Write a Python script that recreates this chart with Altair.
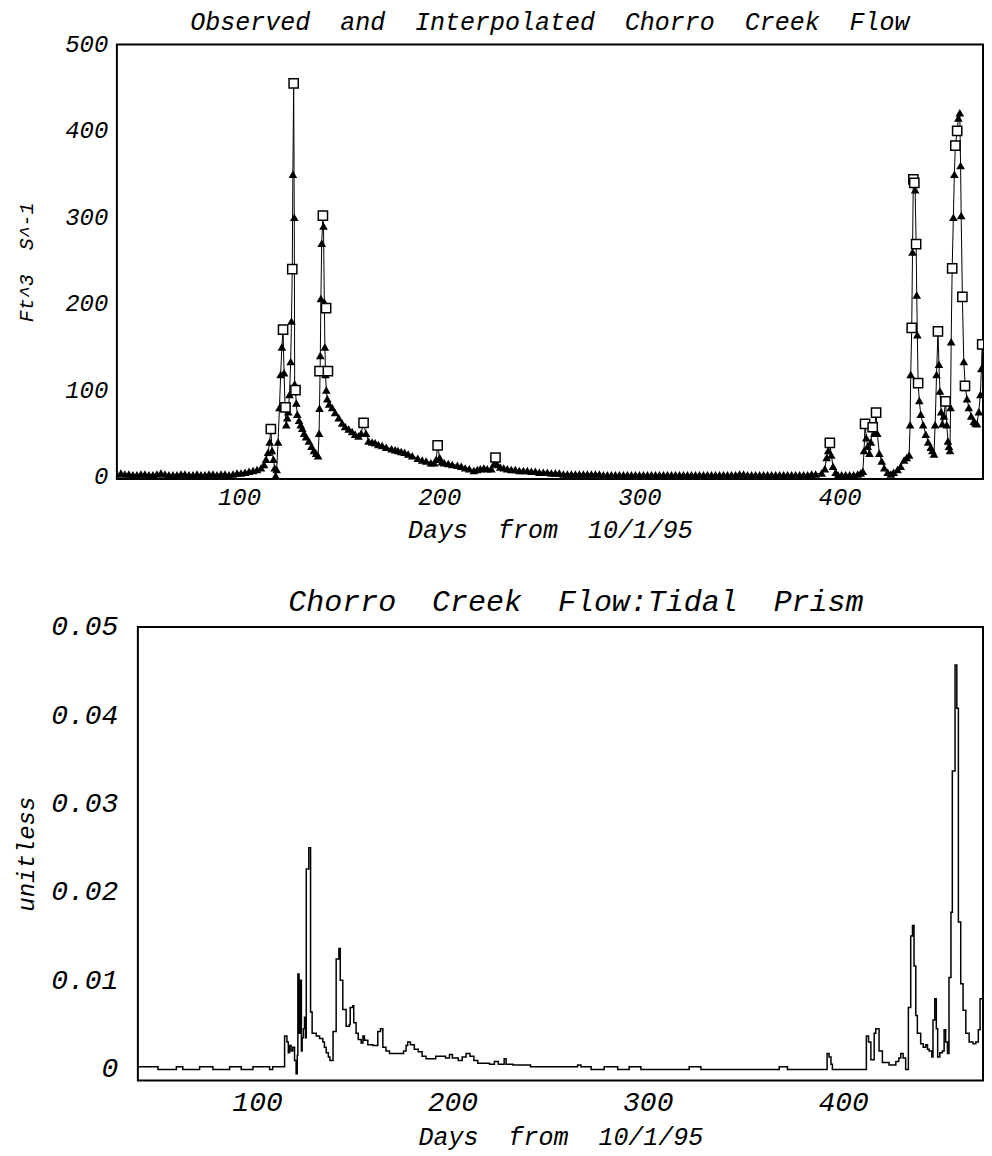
import altair as alt
import pandas as pd

FONT = "Liberation Mono"
SP = "\u00a0\u00a0"

# ---------------- top chart: flow (ft^3/s) ----------------
top_days = [39, 41, 43, 45, 47, 49, 51, 53, 55, 57, 59, 61, 63, 65, 67, 69, 71, 73, 75, 77,
            79, 81, 83, 85, 87, 89, 91, 93, 95, 97, 99, 101, 103, 105, 107, 109, 111,
            112.5, 113.5, 114.5, 115.3, 115.9, 116.5, 117.2, 117.8, 118.3, 118.8, 119.5, 120.2,
            120.8, 121.4, 122.0, 122.5, 123.0, 123.6, 124.1, 124.6, 125.2, 125.8, 126.2, 126.6,
            126.9, 127.3, 127.6, 127.8, 128.2, 128.6, 129.1, 130.0, 130.8, 131.6, 132.5, 133.5,
            134.9, 136.2, 137.4, 138.5, 139.5, 140.0, 140.2, 140.6, 140.9, 141.3, 141.9, 142.2,
            142.6, 142.9, 143.2, 143.6, 144.1, 145, 146.5, 148, 149.8, 151.5, 153, 154.8, 156.5,
            158, 159.7, 161, 162.2, 163.4, 164.7, 166.5, 168, 169.6, 171.5, 173.5, 176.2, 178,
            179.4, 181, 182.7, 184.5, 186.5, 189.3, 191.5, 193.5, 195.8, 197.5, 198.5, 199.2,
            200.2, 201.3, 202.5, 204.5, 206.5, 209.1, 211, 213, 215, 217.3, 219, 220.5, 222.3,
            224, 226, 227.4, 228.1, 229, 230.5, 232.2, 234, 236, 238, 240,
            242, 244, 246, 248, 250, 252, 254, 256, 258, 260, 262, 264, 266, 268, 270, 272, 274,
            276, 278, 280, 282, 284, 286, 288, 290, 292, 294, 296, 298, 300, 302, 304, 306, 308,
            310, 312, 314, 316, 318, 320, 322, 324, 326, 328, 330, 332, 334, 336, 338, 340, 342,
            344, 346, 348, 350, 352, 354, 356, 358, 360, 362, 364, 366, 368, 370, 372, 374, 376,
            378, 380, 382, 384, 386, 388,
            391, 392.6, 393.5, 394.3, 395.1, 395.8, 396.7, 398, 399.2, 401, 403, 405, 407, 409,
            410.5, 411.6, 412.2, 412.7, 413.3, 414.0, 414.9, 415.6, 416.5, 417.3, 418.2, 418.8,
            419.8, 421, 422.3, 424, 425.6, 427, 428.9, 430.5, 432.2, 433.5, 434.7, 435.2, 435.5,
            436.0, 436.4, 436.8, 437.2, 437.7, 438.2, 438.5, 438.8, 439.2, 439.8, 440.5, 441.7,
            443, 444.2, 445.5, 446.3, 447.1, 447.7, 448.4, 449.1, 449.6, 450.1, 450.7, 451.3,
            452.1, 452.9, 453.5, 454.1, 454.6, 455.1, 455.4, 455.7, 456.2, 456.8, 457.3, 457.8,
            458.7, 459.3, 460.0, 460.4, 460.7, 461.3, 462.0, 462.8, 463.6, 464.5, 465.7, 467,
            467.8, 468.6, 469.5, 470.3, 470.8, 471.2]
top_flow = [3, 4, 3, 3, 2, 2, 3, 3, 2, 2, 3, 4, 3, 2, 2, 2, 3, 3, 2, 2,
            3, 2, 2, 3, 3, 2, 3, 3, 2, 3, 4, 4, 5, 6, 7, 8, 10,
            14, 20, 28, 40, 55, 30, 20, 10, 1, 8, 40, 80,
            118, 150, 170, 120, 80, 60, 68, 75, 95, 133, 180, 240,
            350, 455, 300, 107, 100, 85, 72, 65, 60, 56, 50, 46,
            41, 35, 30, 27, 24, 50, 79, 140, 206, 270, 302, 290,
            202, 150, 118, 100, 90, 84, 80, 74, 68, 62, 58, 55, 52,
            49, 47, 50, 62, 50, 41, 40, 39, 37, 36, 34, 32, 31,
            30, 29, 28, 26, 24, 21, 19, 18, 16, 16, 20, 36,
            22, 17, 16, 15, 14, 13, 12, 10, 9, 7, 8, 9, 10,
            9, 9, 15, 22, 14, 11, 10, 9, 8, 8, 7,
            7, 7, 6, 6, 5, 5, 5, 4, 4, 4, 3, 3, 3, 3, 3, 3, 3,
            3, 3, 3, 2, 2, 2, 2, 2, 2, 2, 2, 2, 2, 2, 2, 2, 2,
            2, 2, 2, 2, 2, 2, 2, 2, 2, 2, 2, 2, 2, 2, 2, 2, 2,
            2, 2, 2, 3, 3, 2, 2, 2, 2, 2, 2, 2, 2, 2, 2, 2, 2,
            2, 2, 2, 2, 3, 3,
            4, 9, 22, 30, 39, 25, 12, 5, 2, 2, 2, 2, 2, 3,
            4, 6, 30, 61, 45, 35, 27, 40, 57, 50, 74, 50,
            27, 18, 10, 5, 3, 5, 8, 12, 19, 22, 25, 60, 118,
            172, 260, 344, 340, 332, 269, 210, 164, 108, 88, 72, 60,
            49, 40, 34, 30, 26, 60, 118, 168, 130, 99, 75, 61,
            70, 87, 60, 41, 35, 30, 80, 156, 241, 300, 350, 383,
            400, 415, 421, 360, 302, 208, 133, 103, 90, 80, 70, 64,
            62, 61, 75, 95, 125, 153]

obs_days = [115.9, 122.0, 123.2, 126.6, 127.3, 128.2, 140.2, 141.9, 143.5, 144.4, 162.2,
            199.2, 228.1, 395.1, 412.7, 416.5, 418.2, 436.0, 436.8, 437.3, 438.2, 439.2,
            449.1, 452.9, 456.2, 457.8, 458.7, 461.3, 462.6, 471.2]
obs_flow = [55, 170, 80, 240, 455, 100, 122, 302, 195, 122, 62,
            36, 22, 39, 61, 57, 74, 172, 344, 340, 269, 108,
            168, 87, 241, 383, 400, 208, 105, 153]

# ---------------- bottom chart: flow / tidal prism ----------------
ratio_days = [39.0, 49.3, 58.7, 62.0, 70.6, 77.4, 86.0, 91.9, 97.9, 106.4, 108.0,
              114.1, 115.3, 116.0, 116.6, 117.4, 118.3, 119.2, 120.0, 120.6, 120.9, 121.5,
              122.2, 122.7, 123.1, 123.7, 124.3, 124.8, 125.2, 126.5, 127.4, 128.2, 130.3,
              132.0, 133.7, 134.5, 135.4, 136.5, 137.3, 138.9, 140.5, 141.9, 142.6, 143.9,
              145.6, 147.2, 147.7, 149.0, 149.5, 150.7, 151.8, 153.3, 154.2, 155.0, 156.7,
              159.2, 161.8, 163.2, 164.4, 166.0, 167.8, 175.0, 176.3, 177.1, 178.5, 180.5,
              182.5, 184.5, 186.5, 190.0, 191.5, 195.0, 196.5, 198.5, 200.0, 203.0, 205.0,
              207.0, 209.0, 211.0, 213.0, 219.0, 221.5, 223.5, 226.5, 227.5, 231.0, 240.0,
              259.8, 264.1, 265.8, 271.0, 277.7, 284.6, 290.5, 296.5, 321.2, 327.2, 367.3,
              371.5, 391.8, 392.8, 393.8, 394.5, 411.9, 413.0, 414.2, 415.9, 416.7, 418.4,
              420.1, 423.5, 427.0, 428.5, 429.5, 430.7, 432.0, 433.4, 434.6, 435.5, 436.3,
              437.2, 438.0, 439.7, 441.0, 442.3, 443.2, 444.0, 445.4, 446.0, 446.9, 447.7,
              448.4, 449.5, 450.8, 451.7, 452.5, 453.4, 454.2, 455.2, 455.9, 457.3, 458.2,
              459.0, 460.2, 461.4, 462.8, 464.5, 466.5, 467.9, 469.2, 470.1, 471.6]
ratio_vals = [0.0002, -0.0001, 0.0002, -0.0001, 0.0002, -0.0001, 0.0002, -0.0001, 0.0002, -0.0001, 0.0002,
              0.0037, 0.0030, 0.0018, 0.0026, 0.0020, 0.0024, 0.0009, -0.0006, 0.0015, 0.0107, 0.0040,
              0.0100, 0.0020, 0.0035, 0.0045, 0.0058, 0.0035, 0.0226, 0.0250, 0.0064, 0.0040, 0.0037,
              0.0034, 0.0030, 0.0024, 0.0018, 0.0013, 0.0009, 0.0042, 0.0124, 0.0136, 0.0100, 0.0067,
              0.0048, 0.0050, 0.0069, 0.0071, 0.0052, 0.0040, 0.0033, 0.0029, 0.0037, 0.0032, 0.0027,
              0.0026, 0.0042, 0.0045, 0.0024, 0.0020, 0.0017, 0.0020, 0.0026, 0.0030, 0.0027, 0.0022,
              0.0019, 0.0014, 0.0011, 0.0011, 0.0014, 0.0014, 0.0012, 0.0016, 0.0012, 0.0009, 0.0013,
              0.0017, 0.0014, 0.0009, 0.0006, 0.0005, 0.0008, 0.0005, 0.0011, 0.0005, 0.0004, 0.0002,
              0.0002, 0.0004, 0.0002, -0.0001, 0.0002, -0.0001, 0.0002, -0.0001, 0.0002, -0.0001, 0.0002,
              -0.0001, 0.0017, 0.0013, 0.0005, -0.0001, 0.0037, 0.0030, 0.0010, 0.0040, 0.0045, 0.0020,
              0.0007, 0.0004, 0.0008, 0.0012, 0.0017, 0.0012, -0.0001, 0.0069, 0.0150, 0.0162, 0.0116,
              0.0060, 0.0040, 0.0028, 0.0024, 0.0027, 0.0022, 0.0020, 0.0013, 0.0055, 0.0079, 0.0045,
              0.0013, 0.0018, 0.0020, 0.0044, 0.0030, 0.0017, 0.0103, 0.0177, 0.0337, 0.0457, 0.0408,
              0.0166, 0.0096, 0.0066, 0.0040, 0.0030, 0.0028, 0.0030, 0.0044, 0.0079, 0.0079]

x_ticks = [100, 200, 300, 400]
flow_ticks = [0, 100, 200, 300, 400, 500]
ratio_ticks = [0, 0.01, 0.02, 0.03, 0.04, 0.05]
x_dom = [39, 471.6]
ratio_dom = [-0.00135, 0.05]

top_df = pd.DataFrame({"day": top_days, "flow": top_flow})
obs_df = pd.DataFrame({"day": obs_days, "flow": obs_flow})
ratio_df = pd.DataFrame({"day": ratio_days, "ratio": ratio_vals})
frame_df = pd.DataFrame({"x1": [x_dom[0]], "x2": [x_dom[1]],
                         "y1": [ratio_dom[0]], "y2": [ratio_dom[1]]})


def axis(values, title, lsize, tsize, fmt, **kw):
    return alt.Axis(values=values, title=title, format=fmt, grid=False, ticks=False,
                    domain=False, labelFont=FONT, labelFontStyle="italic",
                    labelFontSize=lsize, labelColor="black", titleFont=FONT,
                    titleFontStyle="italic", titleFontWeight="normal", titleFontSize=tsize,
                    titleColor="black", **kw)


# ---- top ----
TOP_W, TOP_H = 867, 435
xt = alt.X("day:Q", scale=alt.Scale(domain=x_dom, nice=False, zero=False),
           axis=axis(x_ticks, "Days" + SP + "from" + SP + "10/1/95", 24, 25, "d",
                     labelPadding=6, titlePadding=8))
yt = alt.Y("flow:Q", scale=alt.Scale(domain=[-3, 500], nice=False, zero=False),
           axis=axis(flow_ticks, "Ft^3" + SP + "S^-1", 24, 20, "d",
                     labelPadding=9, titlePadding=28))

base_top = alt.Chart(top_df)
line_top = base_top.mark_line(color="black", strokeWidth=1, clip=True).encode(x=xt, y=yt)
tri_top = base_top.mark_point(shape="triangle-up", filled=True, size=75, color="black",
                              opacity=1, clip=True).encode(x=xt, y=yt)
sq_top = alt.Chart(obs_df).mark_point(shape="square", filled=True, fill="white", stroke="black",
                                      strokeWidth=1.5, size=85, opacity=1, clip=True).encode(x=xt, y=yt)

top = alt.layer(line_top, tri_top, sq_top).properties(
    width=TOP_W, height=TOP_H,
    view=alt.ViewBackground(stroke="black", strokeWidth=2, fill="white"),
    title=alt.TitleParams("Observed" + SP + "and" + SP + "Interpolated" + SP + "Chorro" + SP
                          + "Creek" + SP + "Flow", font=FONT,
                          fontStyle="italic", fontWeight="normal", fontSize=25, color="black",
                          offset=-2))

# ---- bottom (plot area starts 21 px right of the top one) ----
SHIFT = 21
xb_scale = alt.Scale(domain=x_dom, nice=False, zero=False, range=[SHIFT, TOP_W])
yb_scale = alt.Scale(domain=ratio_dom, nice=False, zero=False)
xb = alt.X("day:Q", scale=xb_scale,
           axis=axis(x_ticks, "Days" + SP + "from" + SP + "10/1/95", 28, 25, "d",
                     labelPadding=8, titlePadding=8, titleX=(SHIFT + TOP_W) / 2))
yb = alt.Y("ratio:Q", scale=yb_scale,
           axis=axis(ratio_ticks, "unitless", 28, 24, ".2~f", labelPadding=20,
                     titlePadding=12, offset=-SHIFT))

ratio_line = alt.Chart(ratio_df).mark_line(color="black", strokeWidth=1.5,
                                           interpolate="step-after", clip=True).encode(x=xb, y=yb)
frame = alt.Chart(frame_df).mark_rect(filled=False, stroke="black", strokeWidth=2).encode(
    x=alt.X("x1:Q", scale=xb_scale), x2="x2:Q",
    y=alt.Y("y1:Q", scale=yb_scale), y2="y2:Q")

bottom = alt.layer(ratio_line, frame).properties(
    width=TOP_W, height=454,
    view=alt.ViewBackground(strokeWidth=0, fill="white"),
    title=alt.TitleParams("Chorro" + SP + "Creek" + SP + "Flow:Tidal" + SP + "Prism", font=FONT,
                          fontStyle="italic", fontWeight="normal", fontSize=30, color="black",
                          offset=6, dx=26, dy=10))

chart = alt.vconcat(top, bottom, spacing=44).configure(
    background="white", padding={"left": 6, "top": 0, "right": 0, "bottom": 0})

chart.save("out.html", embed_options={"renderer": "svg", "actions": False})
